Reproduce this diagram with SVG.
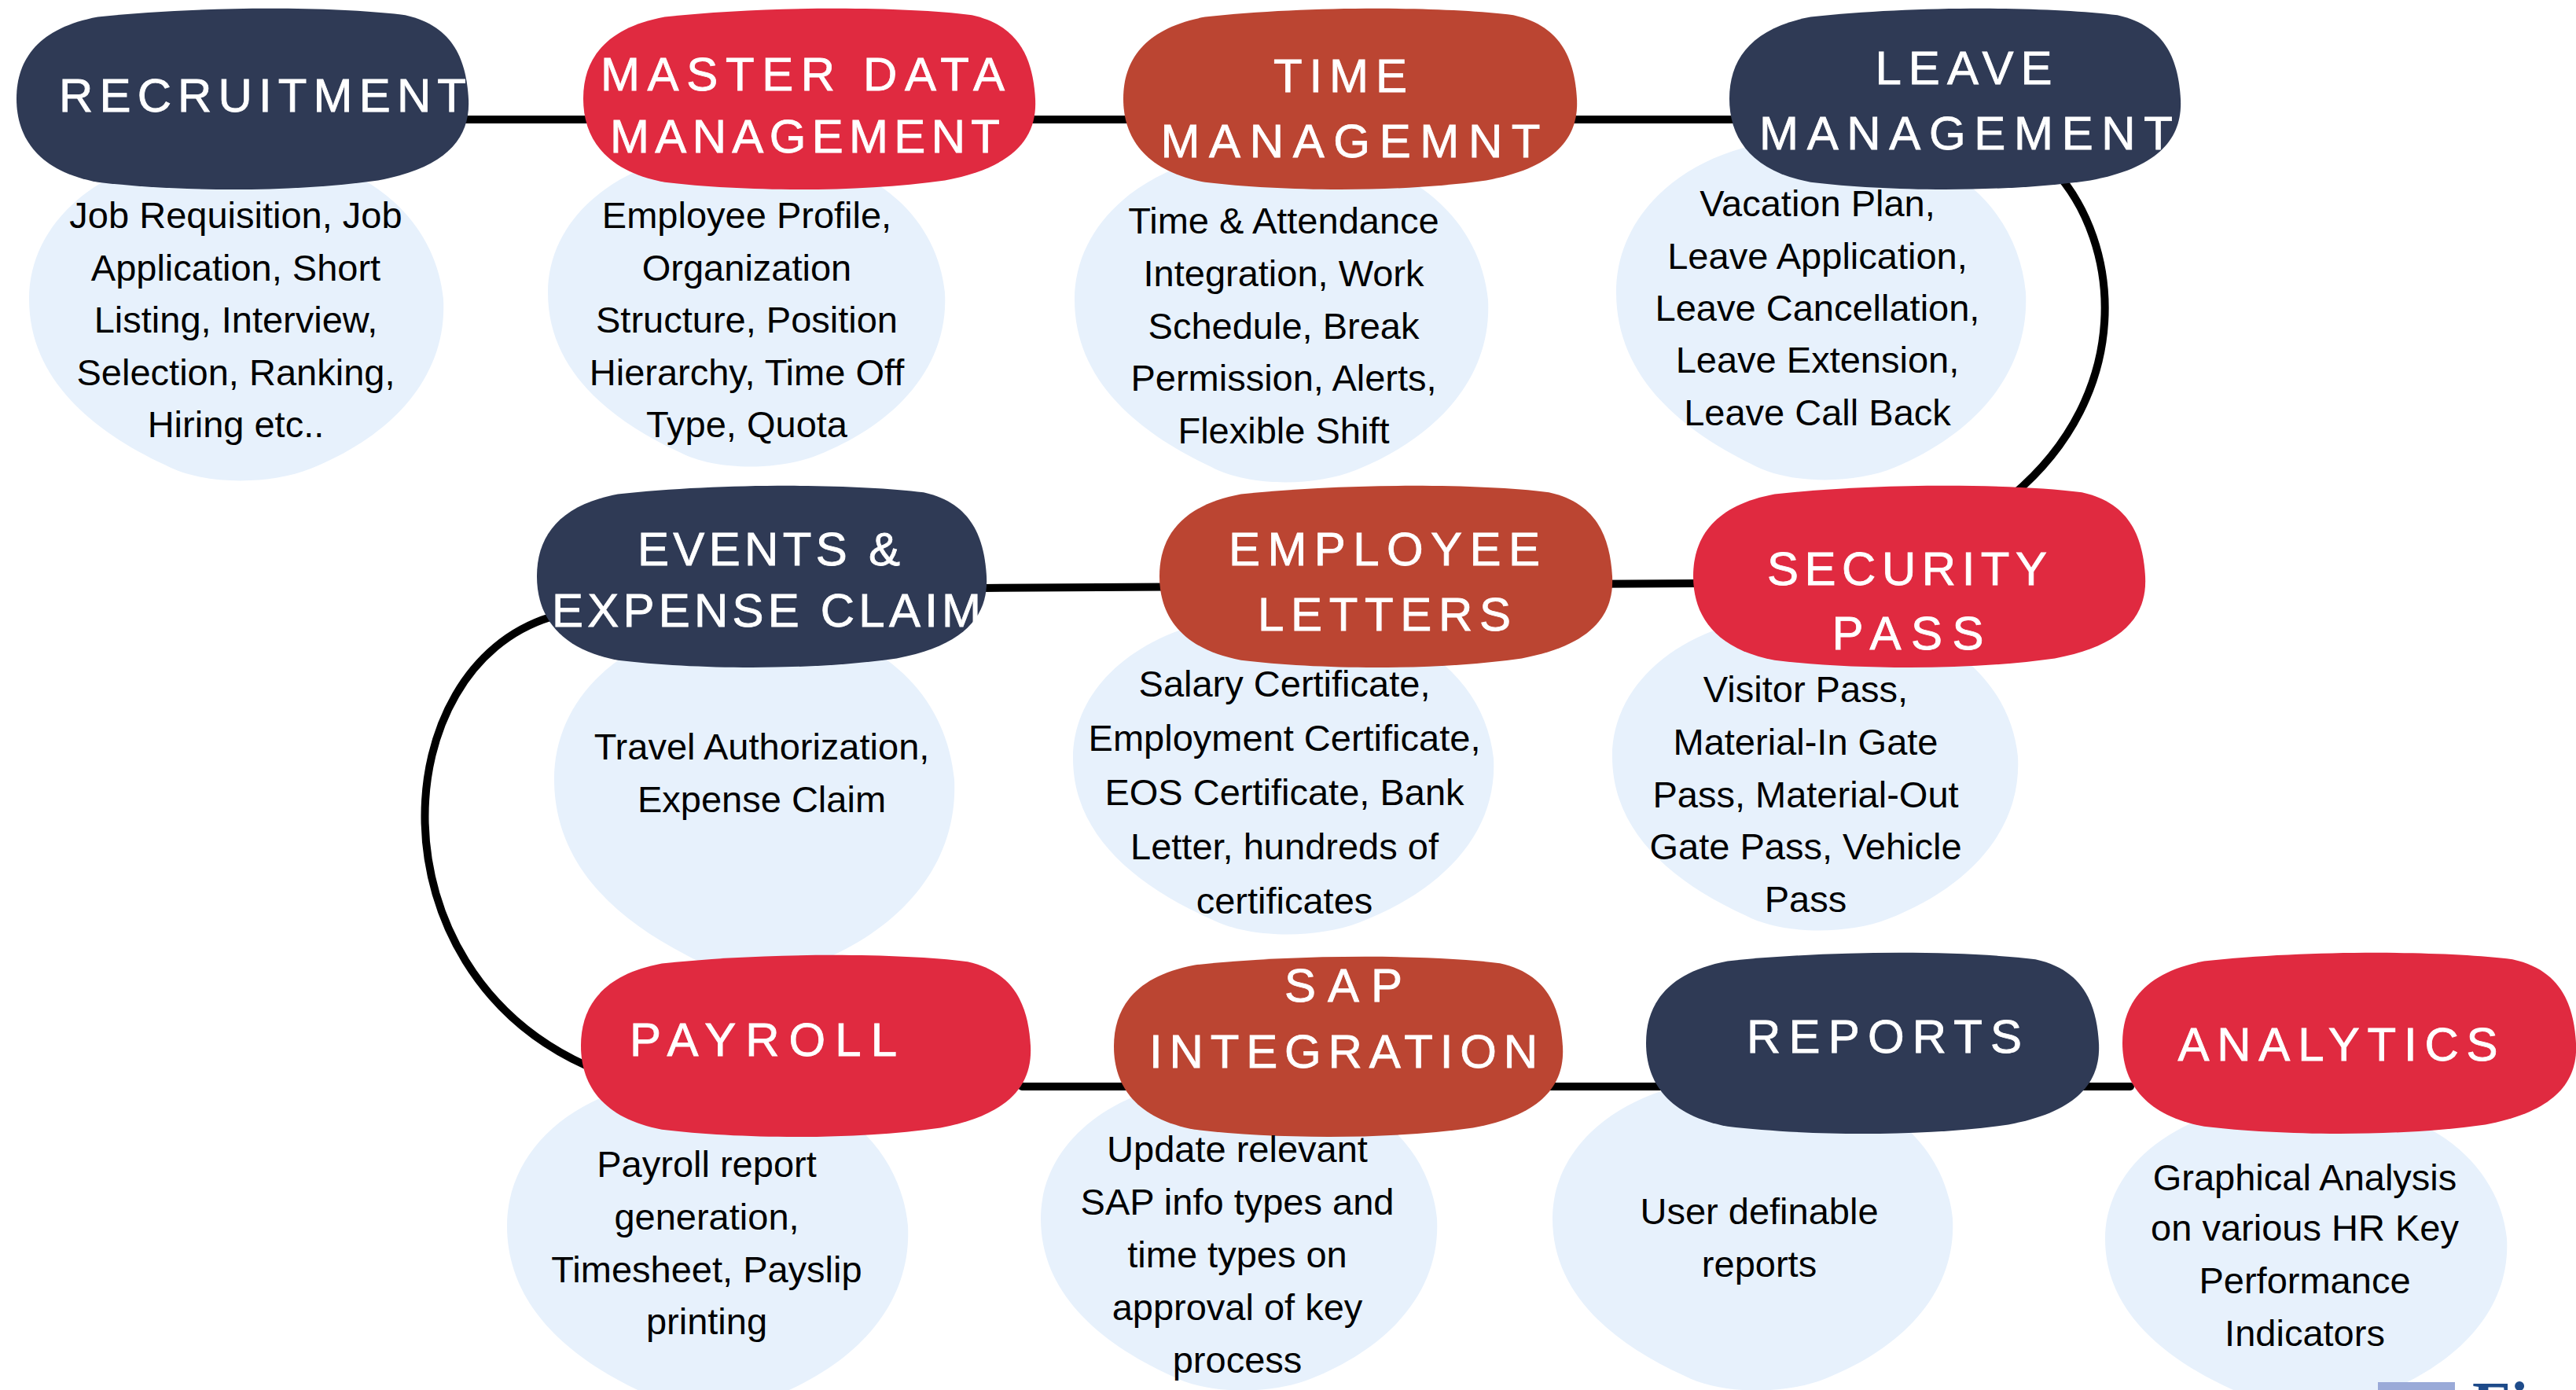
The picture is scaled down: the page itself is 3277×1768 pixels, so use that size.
<svg xmlns="http://www.w3.org/2000/svg" width="3277" height="1768" viewBox="0 0 3277 1768">
<style>
.hd{font-family:"Liberation Sans",Arial,sans-serif;font-size:60px;fill:#fff;stroke:#fff;stroke-width:0.8;text-anchor:middle}
.bd{font-family:"Liberation Sans",Arial,sans-serif;font-size:47px;fill:#000;text-anchor:middle}
.lb{fill:#e7f1fc}
.navy{fill:#2f3a55}
.red{fill:#e02a40}
.brown{fill:#bb4532}
.conn{fill:none;stroke:#000;stroke-width:10;stroke-linecap:round}
</style>
<defs>
<path id="hb" d="M 18 5 C 40 -1, 70 -1, 86 4 C 97 10, 99.5 30, 100 50 C 100.5 72, 95 88, 80 95 C 60 102, 35 101, 18 96 C 5 90, 0 72, 0 50 C 0 28, 5 11, 18 5 Z"/>
<path id="lbp" d="M 50 0 C 80 0, 98 20, 100 45 C 101 68, 88 86, 68 96 C 58 101, 42 101, 33 95 C 14 84, 0 68, 0 45 C 0 20, 20 0, 50 0 Z"/>
</defs>
<rect width="3277" height="1768" fill="#fff"/>

<g id="light-blobs">
<use href="#lbp" class="lb" transform="translate(37,190) scale(5.27,4.23)"/>
<use href="#lbp" class="lb" transform="translate(697,190) scale(5.05,4.05)"/>
<use href="#lbp" class="lb" transform="translate(1367,190) scale(5.26,4.25)"/>
<use href="#lbp" class="lb" transform="translate(2056,175) scale(5.21,4.37)"/>
<use href="#lbp" class="lb" transform="translate(705,790) scale(5.09,4.47)"/>
<use href="#lbp" class="lb" transform="translate(1365,780) scale(5.35,4.1)"/>
<use href="#lbp" class="lb" transform="translate(2051,780) scale(5.16,4.05)"/>
<use href="#lbp" class="lb" transform="translate(645,1370) scale(5.1,4.2)"/>
<use href="#lbp" class="lb" transform="translate(1324,1370) scale(5.04,4.0)"/>
<use href="#lbp" class="lb" transform="translate(1975,1370) scale(5.09,4.0)"/>
<use href="#lbp" class="lb" transform="translate(2678,1400) scale(5.11,3.9)"/>
</g>

<g id="connectors">
<path class="conn" d="M 590 152 L 2210 152"/>
<path class="conn" d="M 2612 215 C 2700 310, 2715 500, 2560 630"/>
<path class="conn" d="M 1250 748 L 2160 742"/>
<path class="conn" d="M 700 785 C 490 850, 470 1230, 745 1355"/>
<path class="conn" d="M 1300 1382 L 2710 1382"/>
</g>

<g id="recruitment">
<use href="#hb" class="navy" transform="translate(21,10) scale(5.75,2.31)"/>
<text class="hd" x="334" y="142" textLength="518" lengthAdjust="spacing">RECRUITMENT</text>
<text class="bd" x="300" y="290">Job Requisition, Job</text>
<text class="bd" x="300" y="357">Application, Short</text>
<text class="bd" x="300" y="423">Listing, Interview,</text>
<text class="bd" x="300" y="490">Selection, Ranking,</text>
<text class="bd" x="300" y="556">Hiring etc..</text>
</g>

<g id="master-data">
<use href="#hb" class="red" transform="translate(742,10) scale(5.75,2.31)"/>
<text class="hd" x="1021" y="115" textLength="514" lengthAdjust="spacing">MASTER DATA</text>
<text class="hd" x="1024" y="194" textLength="496" lengthAdjust="spacing">MANAGEMENT</text>
<text class="bd" x="950" y="290">Employee Profile,</text>
<text class="bd" x="950" y="357">Organization</text>
<text class="bd" x="950" y="423">Structure, Position</text>
<text class="bd" x="950" y="490">Hierarchy, Time Off</text>
<text class="bd" x="950" y="556">Type, Quota</text>
</g>

<g id="time-management">
<use href="#hb" class="brown" transform="translate(1429,10) scale(5.77,2.31)"/>
<text class="hd" x="1705" y="117" textLength="170" lengthAdjust="spacing">TIME</text>
<text class="hd" x="1718" y="200" textLength="483" lengthAdjust="spacing">MANAGEMNT</text>
<text class="bd" x="1633" y="297">Time &amp; Attendance</text>
<text class="bd" x="1633" y="364">Integration, Work</text>
<text class="bd" x="1633" y="431">Schedule, Break</text>
<text class="bd" x="1633" y="497">Permission, Alerts,</text>
<text class="bd" x="1633" y="564">Flexible Shift</text>
</g>

<g id="leave-management">
<use href="#hb" class="navy" transform="translate(2200,10) scale(5.74,2.31)"/>
<text class="hd" x="2498" y="107" textLength="225" lengthAdjust="spacing">LEAVE</text>
<text class="hd" x="2501" y="190" textLength="526" lengthAdjust="spacing">MANAGEMENT</text>
<text class="bd" x="2312" y="275">Vacation Plan,</text>
<text class="bd" x="2312" y="342">Leave Application,</text>
<text class="bd" x="2312" y="408">Leave Cancellation,</text>
<text class="bd" x="2312" y="474">Leave Extension,</text>
<text class="bd" x="2312" y="541">Leave Call Back</text>
</g>

<g id="events-expense">
<use href="#hb" class="navy" transform="translate(683,617) scale(5.72,2.32)"/>
<text class="hd" x="978" y="719" textLength="334" lengthAdjust="spacing">EVENTS &amp;</text>
<text class="hd" x="975" y="797" textLength="546" lengthAdjust="spacing">EXPENSE CLAIM</text>
<text class="bd" x="969" y="966">Travel Authorization,</text>
<text class="bd" x="969" y="1033">Expense Claim</text>
</g>

<g id="employee-letters">
<use href="#hb" class="brown" transform="translate(1475,617) scale(5.76,2.32)"/>
<text class="hd" x="1761" y="719" textLength="396" lengthAdjust="spacing">EMPLOYEE</text>
<text class="hd" x="1761" y="802" textLength="322" lengthAdjust="spacing">LETTERS</text>
<text class="bd" x="1634" y="886">Salary Certificate,</text>
<text class="bd" x="1634" y="955">Employment Certificate,</text>
<text class="bd" x="1634" y="1024">EOS Certificate, Bank</text>
<text class="bd" x="1634" y="1093">Letter, hundreds of</text>
<text class="bd" x="1634" y="1162">certificates</text>
</g>

<g id="security-pass">
<use href="#hb" class="red" transform="translate(2154,617) scale(5.75,2.32)"/>
<text class="hd" x="2426" y="744" textLength="356" lengthAdjust="spacing">SECURITY</text>
<text class="hd" x="2427" y="826" textLength="193" lengthAdjust="spacing">PASS</text>
<text class="bd" x="2297" y="893">Visitor Pass,</text>
<text class="bd" x="2297" y="960">Material-In Gate</text>
<text class="bd" x="2297" y="1027">Pass, Material-Out</text>
<text class="bd" x="2297" y="1093">Gate Pass, Vehicle</text>
<text class="bd" x="2297" y="1160">Pass</text>
</g>

<g id="payroll">
<use href="#hb" class="red" transform="translate(739,1214) scale(5.72,2.32)"/>
<text class="hd" x="971" y="1343" textLength="340" lengthAdjust="spacing">PAYROLL</text>
<text class="bd" x="899" y="1497">Payroll report</text>
<text class="bd" x="899" y="1564">generation,</text>
<text class="bd" x="899" y="1631">Timesheet, Payslip</text>
<text class="bd" x="899" y="1697">printing</text>
</g>

<g id="sap-integration">
<use href="#hb" class="brown" transform="translate(1417,1216) scale(5.71,2.30)"/>
<text class="hd" x="1709" y="1274" textLength="150" lengthAdjust="spacing">SAP</text>
<text class="hd" x="1709" y="1358" textLength="494" lengthAdjust="spacing">INTEGRATION</text>
<text class="bd" x="1574" y="1478">Update relevant</text>
<text class="bd" x="1574" y="1545">SAP info types and</text>
<text class="bd" x="1574" y="1612">time types on</text>
<text class="bd" x="1574" y="1679">approval of key</text>
<text class="bd" x="1574" y="1746">process</text>
</g>

<g id="reports">
<use href="#hb" class="navy" transform="translate(2094,1211) scale(5.76,2.31)"/>
<text class="hd" x="2397" y="1339" textLength="350" lengthAdjust="spacing">REPORTS</text>
<text class="bd" x="2238" y="1557">User definable</text>
<text class="bd" x="2238" y="1624">reports</text>
</g>

<g id="analytics">
<use href="#hb" class="red" transform="translate(2700,1211) scale(5.77,2.31)"/>
<text class="hd" x="2974" y="1349" textLength="407" lengthAdjust="spacing">ANALYTICS</text>
<text class="bd" x="2932" y="1514">Graphical Analysis</text>
<text class="bd" x="2932" y="1578">on various HR Key</text>
<text class="bd" x="2932" y="1645">Performance</text>
<text class="bd" x="2932" y="1712">Indicators</text>
</g>

<g id="logo-fragment">
<rect x="3025" y="1758" width="98" height="12" fill="#9aaad8"/>
<text x="3145" y="1813" font-family="'Liberation Serif',serif" font-weight="bold" font-size="80" fill="#1e4b8a">Fi</text>
</g>
</svg>
